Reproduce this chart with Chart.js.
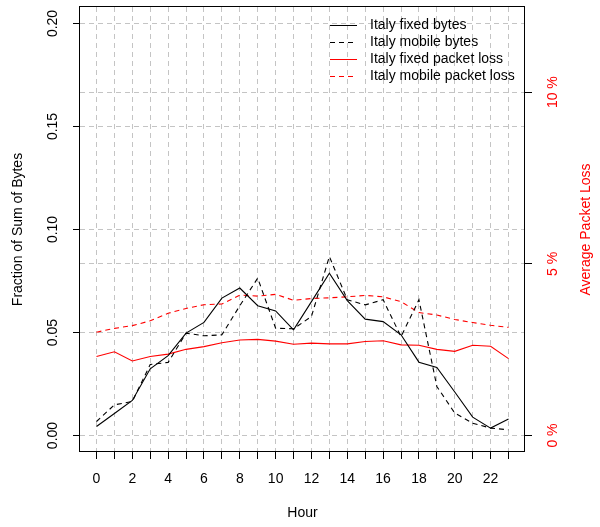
<!DOCTYPE html>
<html>
<head>
<meta charset="utf-8">
<script src="https://cdn.jsdelivr.net/npm/chart.js@4.4.1/dist/chart.umd.min.js"></script>
<style>
html,body{margin:0;padding:0;background:#ffffff;}
canvas{display:block;}
</style>
</head>
<body>
<canvas id="c" width="600" height="527"></canvas>
<script>
// ---- data ----
const hours = [0,1,2,3,4,5,6,7,8,9,10,11,12,13,14,15,16,17,18,19,20,21,22,23];
const fixedBytes  = [0.0044,0.0107,0.0170,0.0324,0.0388,0.0497,0.0549,0.0667,0.0716,0.0630,0.0605,0.0513,0.0650,0.0788,0.0655,0.0565,0.0553,0.0489,0.0356,0.0330,0.0211,0.0089,0.0036,0.0080];
const mobileBytes = [0.0068,0.0149,0.0165,0.0345,0.0355,0.0497,0.0484,0.0489,0.0630,0.0764,0.0521,0.0518,0.0578,0.0869,0.0659,0.0634,0.0659,0.0480,0.0659,0.0238,0.0109,0.0060,0.0036,0.0028];
const fixedLoss   = [2.30,2.44,2.17,2.30,2.37,2.51,2.59,2.70,2.78,2.80,2.75,2.66,2.69,2.67,2.67,2.74,2.76,2.64,2.63,2.51,2.45,2.63,2.60,2.24];
const mobileLoss  = [3.01,3.12,3.20,3.34,3.56,3.70,3.81,3.83,4.09,4.06,4.11,3.94,3.99,4.01,4.04,4.08,4.04,3.90,3.58,3.51,3.38,3.29,3.21,3.15];
const seriesNames = ['Italy fixed bytes','Italy mobile bytes','Italy fixed packet loss','Italy mobile packet loss'];
const leftTicks  = [0, 0.05, 0.10, 0.15, 0.20];
const rightTicks = [0, 5, 10];
const xTicks = hours;

// ---- styling ----
const FONT = 'Liberation Sans, Arial, Helvetica, sans-serif';
const GRID = '#c4c4c4';
const DASH = [5, 4];
Chart.defaults.font.family = FONT;
Chart.defaults.font.size = 14;
Chart.defaults.color = '#000';

const pts = arr => hours.map((h, i) => ({x: h, y: arr[i]}));

const datasets = [
  {label: seriesNames[0], data: pts(fixedBytes),  yAxisID: 'y',  borderColor: '#000000', borderWidth: 1.1, borderDash: []},
  {label: seriesNames[1], data: pts(mobileBytes), yAxisID: 'y',  borderColor: '#000000', borderWidth: 1.1, borderDash: DASH},
  {label: seriesNames[2], data: pts(fixedLoss),   yAxisID: 'y2', borderColor: '#ff0000', borderWidth: 1.1, borderDash: []},
  {label: seriesNames[3], data: pts(mobileLoss),  yAxisID: 'y2', borderColor: '#ff0000', borderWidth: 1.1, borderDash: DASH}
].map(d => Object.assign(d, {pointRadius: 0, pointHoverRadius: 0, tension: 0, fill: false}));

const gridOpts = {color: GRID, lineWidth: 1, drawTicks: true, tickLength: 7, tickColor: '#000', tickWidth: 1};

const overlay = {
  id: 'overlay',
  afterDraw(chart) {
    const ctx = chart.ctx;
    const a = chart.chartArea;
    ctx.save();
    // box
    ctx.strokeStyle = '#000';
    ctx.lineWidth = 1;
    ctx.setLineDash([]);
    ctx.strokeRect(Math.round(a.left) - 0.5, Math.round(a.top) - 0.5,
                   Math.round(a.right - a.left), Math.round(a.bottom - a.top));
    // legend
    ctx.font = '14px ' + FONT;
    ctx.textBaseline = 'middle';
    ctx.textAlign = 'left';
    chart.data.datasets.forEach((ds, i) => {
      const y = 24.5 + i * 17.2;
      ctx.strokeStyle = ds.borderColor;
      ctx.lineWidth = 1;
      ctx.setLineDash(ds.borderDash || []);
      ctx.beginPath();
      ctx.moveTo(330, Math.round(y) + 0.5);
      ctx.lineTo(357, Math.round(y) + 0.5);
      ctx.stroke();
      ctx.setLineDash([]);
      ctx.fillStyle = '#000';
      ctx.fillText(ds.label, 370, y + 0.5);
    });
    // right axis title (reads bottom to top)
    ctx.fillStyle = '#ff0000';
    ctx.translate(590, (a.top + a.bottom) / 2);
    ctx.rotate(-Math.PI / 2);
    ctx.textAlign = 'center';
    ctx.textBaseline = 'alphabetic';
    ctx.fillText('Average Packet Loss', 0, 0);
    ctx.restore();
  }
};

new Chart(document.getElementById('c'), {
  type: 'line',
  data: {datasets},
  options: {
    responsive: false,
    animation: false,
    devicePixelRatio: 1,
    layout: {padding: {top: 7, left: 0, right: 0, bottom: 0}},
    plugins: {legend: {display: false}, tooltip: {enabled: false}},
    events: [],
    scales: {
      x: {
        type: 'linear', position: 'bottom', min: -0.92, max: 23.92,
        afterBuildTicks: s => { s.ticks = xTicks.map(v => ({value: v})); },
        afterFit: s => { s.height = 75; s.paddingLeft = 0; s.paddingRight = 0; },
        ticks: {autoSkip: false, minRotation: 0, maxRotation: 0, padding: 12, color: '#000',
                callback: v => (v % 2 === 0 ? String(v) : '')},
        grid: gridOpts,
        border: {display: false, dash: DASH},
        title: {display: true, text: 'Hour', color: '#000', padding: {top: 0, bottom: 5.5}}
      },
      y: {
        type: 'linear', position: 'left', min: -0.008, max: 0.208,
        afterBuildTicks: s => { s.ticks = leftTicks.map(v => ({value: v})); },
        afterFit: s => { s.width = 80; s.paddingTop = 0; s.paddingBottom = 0; },
        ticks: {autoSkip: false, minRotation: 90, maxRotation: 90, crossAlign: 'center', padding: 6, color: '#000',
                callback: v => Number(v).toFixed(2)},
        grid: gridOpts,
        border: {display: false, dash: DASH},
        title: {display: true, text: 'Fraction of Sum of Bytes', color: '#000', padding: {top: 10.1, bottom: 0}}
      },
      y2: {
        type: 'linear', position: 'right', min: -0.48, max: 12.48,
        afterBuildTicks: s => { s.ticks = rightTicks.map(v => ({value: v})); },
        afterFit: s => { s.width = 75; s.paddingTop = 0; s.paddingBottom = 0; },
        ticks: {autoSkip: false, minRotation: 90, maxRotation: 90, crossAlign: 'center', padding: 5, color: '#ff0000',
                callback: v => v + ' %'},
        grid: gridOpts,
        border: {display: false, dash: DASH},
        title: {display: false}
      }
    }
  },
  plugins: [overlay]
});
</script>
</body>
</html>
